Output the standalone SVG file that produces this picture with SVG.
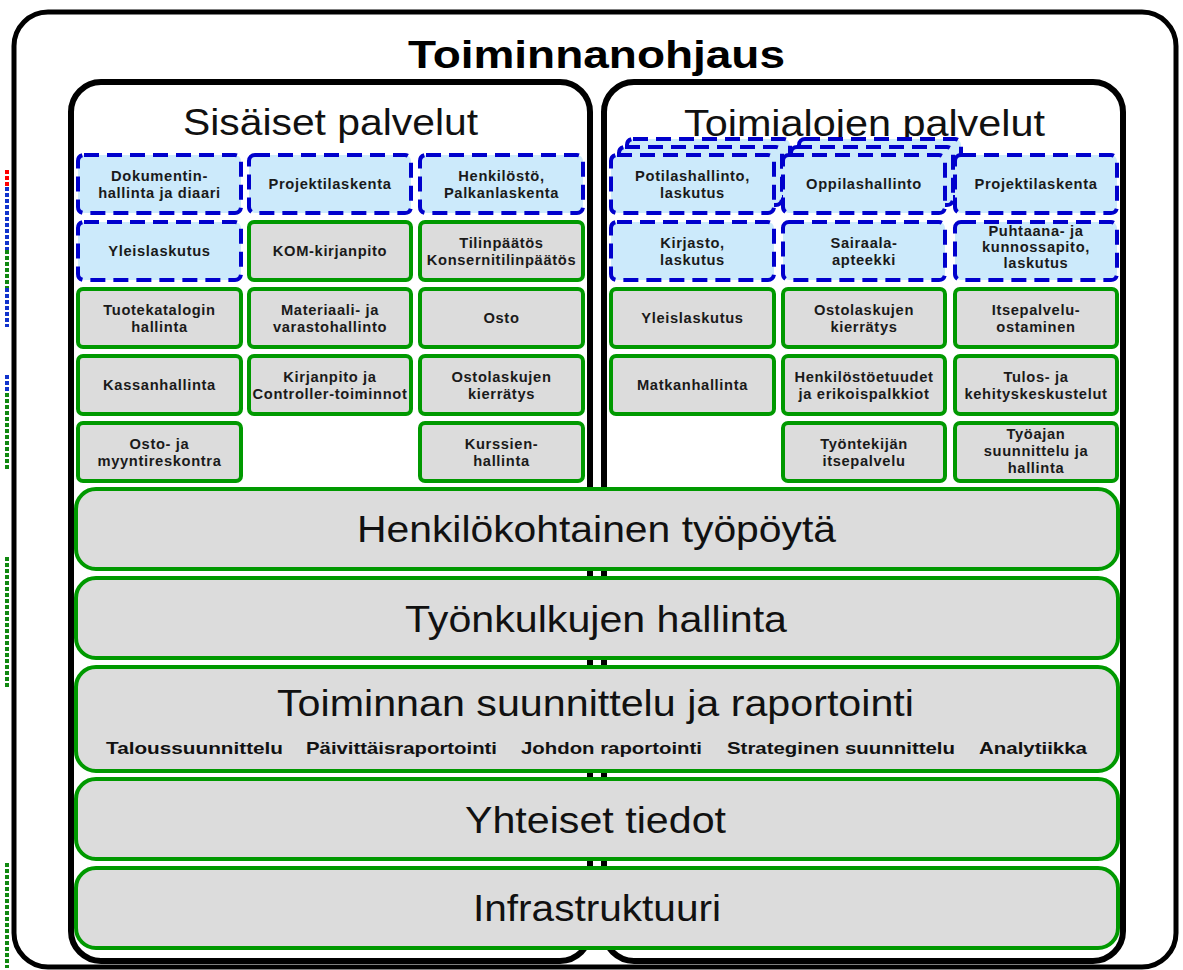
<svg xmlns="http://www.w3.org/2000/svg" width="1183" height="970" viewBox="0 0 1183 970">
  <style>
    .frame { fill: #ffffff; stroke: #000000; }
    .dash { fill: #cceafb; stroke: #0000cc; stroke-width: 4; stroke-dasharray: 15 8; }
    .solid { fill: #dcdcdc; stroke: #009900; stroke-width: 4; }
    .layer { fill: #dcdcdc; stroke: #009900; stroke-width: 4; }
    .lbl { font-family: "Liberation Sans", Arial, sans-serif; font-weight: bold; font-size: 14.7px; letter-spacing: 0.65px; text-anchor: middle; fill: #1a1a1a; }
    .big { font-family: "Liberation Sans", Arial, sans-serif; font-size: 36px; text-anchor: start; fill: #111111; }
    .sub { font-family: "Liberation Sans", Arial, sans-serif; font-weight: bold; font-size: 17px; text-anchor: start; fill: #111111; }
    .edge { fill: none; stroke-width: 4; stroke-dasharray: 4 2; }
  </style>

  <!-- stray marks along the left margin -->
  <g id="margin-marks">
    <line class="edge" x1="7" y1="170" x2="7" y2="186" stroke="#ff0000"/>
    <line class="edge" x1="7" y1="187" x2="7" y2="250" stroke="#1133cc"/>
    <line class="edge" x1="7" y1="250" x2="7" y2="288" stroke="#118811"/>
    <line class="edge" x1="7" y1="288" x2="7" y2="327" stroke="#1133cc"/>
    <line class="edge" x1="7" y1="375" x2="7" y2="393" stroke="#1133cc"/>
    <line class="edge" x1="7" y1="393" x2="7" y2="470" stroke="#118811"/>
    <line class="edge" x1="7" y1="557" x2="7" y2="687" stroke="#118811"/>
    <line class="edge" x1="7" y1="863" x2="7" y2="968" stroke="#118811"/>
  </g>

  <!-- outer frame -->
  <g id="toiminnanohjaus">
    <rect class="frame" x="14" y="12" width="1162" height="955" rx="34" stroke-width="5"/>
    <text x="408" y="68" textLength="377" lengthAdjust="spacingAndGlyphs" font-family="Liberation Sans, Arial, sans-serif" font-weight="bold" font-size="39" fill="#000">Toiminnanohjaus</text>
  </g>

  <!-- service panels -->
  <g id="sisaiset-palvelut">
    <rect class="frame" x="71" y="82" width="519" height="879" rx="30" stroke-width="6"/>
    <text class="big" x="183" y="135" textLength="295" lengthAdjust="spacingAndGlyphs">Sisäiset palvelut</text>
  </g>
  <g id="toimialojen-palvelut">
    <rect class="frame" x="604" y="82" width="519" height="879" rx="30" stroke-width="6"/>
    <text class="big" x="684" y="136" textLength="361" lengthAdjust="spacingAndGlyphs">Toimialojen palvelut</text>
  </g>

  <!-- internal services: left panel -->
  <g id="s-dokumentinhallinta">
    <rect class="dash" x="78" y="155" width="163" height="58" rx="6"/>
    <text class="lbl" x="159.5" y="181">Dokumentin-</text>
    <text class="lbl" x="159.5" y="198">hallinta ja diaari</text>
  </g>
  <g id="s-projektilaskenta">
    <rect class="dash" x="249" y="155" width="162" height="58" rx="6"/>
    <text class="lbl" x="330" y="189">Projektilaskenta</text>
  </g>
  <g id="s-henkilosto">
    <rect class="dash" x="420" y="155" width="163" height="58" rx="6"/>
    <text class="lbl" x="501.5" y="181">Henkilöstö,</text>
    <text class="lbl" x="501.5" y="198">Palkanlaskenta</text>
  </g>
  <g id="s-yleislaskutus">
    <rect class="dash" x="78" y="222" width="163" height="58" rx="6"/>
    <text class="lbl" x="159.5" y="256">Yleislaskutus</text>
  </g>
  <g id="s-kom-kirjanpito">
    <rect class="solid" x="249" y="222" width="162" height="58" rx="5"/>
    <text class="lbl" x="330" y="256">KOM-kirjanpito</text>
  </g>
  <g id="s-tilinpaatos">
    <rect class="solid" x="420" y="222" width="163" height="58" rx="5"/>
    <text class="lbl" x="501.5" y="248">Tilinpäätös</text>
    <text class="lbl" x="501.5" y="265">Konsernitilinpäätös</text>
  </g>
  <g id="s-tuotekatalogi">
    <rect class="solid" x="78" y="289" width="163" height="58" rx="5"/>
    <text class="lbl" x="159.5" y="315">Tuotekatalogin</text>
    <text class="lbl" x="159.5" y="332">hallinta</text>
  </g>
  <g id="s-materiaali">
    <rect class="solid" x="249" y="289" width="162" height="58" rx="5"/>
    <text class="lbl" x="330" y="315">Materiaali- ja</text>
    <text class="lbl" x="330" y="332">varastohallinto</text>
  </g>
  <g id="s-osto">
    <rect class="solid" x="420" y="289" width="163" height="58" rx="5"/>
    <text class="lbl" x="501.5" y="323">Osto</text>
  </g>
  <g id="s-kassanhallinta">
    <rect class="solid" x="78" y="356" width="163" height="58" rx="5"/>
    <text class="lbl" x="159.5" y="390">Kassanhallinta</text>
  </g>
  <g id="s-kirjanpito">
    <rect class="solid" x="249" y="356" width="162" height="58" rx="5"/>
    <text class="lbl" x="330" y="382">Kirjanpito ja</text>
    <text class="lbl" x="330" y="399">Controller-toiminnot</text>
  </g>
  <g id="s-ostolaskut">
    <rect class="solid" x="420" y="356" width="163" height="58" rx="5"/>
    <text class="lbl" x="501.5" y="382">Ostolaskujen</text>
    <text class="lbl" x="501.5" y="399">kierrätys</text>
  </g>
  <g id="s-reskontra">
    <rect class="solid" x="78" y="423" width="163" height="58" rx="5"/>
    <text class="lbl" x="159.5" y="449">Osto- ja</text>
    <text class="lbl" x="159.5" y="466">myyntireskontra</text>
  </g>
  <g id="s-kurssit">
    <rect class="solid" x="420" y="423" width="163" height="58" rx="5"/>
    <text class="lbl" x="501.5" y="449">Kurssien-</text>
    <text class="lbl" x="501.5" y="466">hallinta</text>
  </g>

  <!-- sector services: right panel -->
  <g id="t-potilashallinto">
    <rect class="dash" x="627" y="139" width="163" height="58" rx="6"/>
    <rect class="dash" x="619" y="147" width="163" height="58" rx="6"/>
    <rect class="dash" x="611" y="155" width="163" height="58" rx="6"/>
    <text class="lbl" x="692.5" y="181">Potilashallinto,</text>
    <text class="lbl" x="692.5" y="198">laskutus</text>
  </g>
  <g id="t-oppilashallinto">
    <rect class="dash" x="799" y="139" width="162" height="58" rx="6"/>
    <rect class="dash" x="791" y="147" width="162" height="58" rx="6"/>
    <rect class="dash" x="783" y="155" width="162" height="58" rx="6"/>
    <text class="lbl" x="864" y="189">Oppilashallinto</text>
  </g>
  <g id="t-projektilaskenta">
    <rect class="dash" x="955" y="155" width="162" height="58" rx="6"/>
    <text class="lbl" x="1036" y="189">Projektilaskenta</text>
  </g>
  <g id="t-kirjasto">
    <rect class="dash" x="611" y="222" width="163" height="58" rx="6"/>
    <text class="lbl" x="692.5" y="248">Kirjasto,</text>
    <text class="lbl" x="692.5" y="265">laskutus</text>
  </g>
  <g id="t-sairaala-apteekki">
    <rect class="dash" x="783" y="222" width="162" height="58" rx="6"/>
    <text class="lbl" x="864" y="248">Sairaala-</text>
    <text class="lbl" x="864" y="265">apteekki</text>
  </g>
  <g id="t-puhtaanapito">
    <rect class="dash" x="955" y="222" width="162" height="58" rx="6"/>
    <text class="lbl" x="1036" y="236">Puhtaana- ja</text>
    <text class="lbl" x="1036" y="252">kunnossapito,</text>
    <text class="lbl" x="1036" y="268">laskutus</text>
  </g>
  <g id="t-yleislaskutus">
    <rect class="solid" x="611" y="289" width="163" height="58" rx="5"/>
    <text class="lbl" x="692.5" y="323">Yleislaskutus</text>
  </g>
  <g id="t-ostolaskut">
    <rect class="solid" x="783" y="289" width="162" height="58" rx="5"/>
    <text class="lbl" x="864" y="315">Ostolaskujen</text>
    <text class="lbl" x="864" y="332">kierrätys</text>
  </g>
  <g id="t-itsepalveluostaminen">
    <rect class="solid" x="955" y="289" width="162" height="58" rx="5"/>
    <text class="lbl" x="1036" y="315">Itsepalvelu-</text>
    <text class="lbl" x="1036" y="332">ostaminen</text>
  </g>
  <g id="t-matkanhallinta">
    <rect class="solid" x="611" y="356" width="163" height="58" rx="5"/>
    <text class="lbl" x="692.5" y="390">Matkanhallinta</text>
  </g>
  <g id="t-henkilostoetuudet">
    <rect class="solid" x="783" y="356" width="162" height="58" rx="5"/>
    <text class="lbl" x="864" y="382">Henkilöstöetuudet</text>
    <text class="lbl" x="864" y="399">ja erikoispalkkiot</text>
  </g>
  <g id="t-kehityskeskustelut">
    <rect class="solid" x="955" y="356" width="162" height="58" rx="5"/>
    <text class="lbl" x="1036" y="382">Tulos- ja</text>
    <text class="lbl" x="1036" y="399">kehityskeskustelut</text>
  </g>
  <g id="t-tyontekijan-itsepalvelu">
    <rect class="solid" x="783" y="423" width="162" height="58" rx="5"/>
    <text class="lbl" x="864" y="449">Työntekijän</text>
    <text class="lbl" x="864" y="466">itsepalvelu</text>
  </g>
  <g id="t-tyoaika">
    <rect class="solid" x="955" y="423" width="162" height="58" rx="5"/>
    <text class="lbl" x="1036" y="439">Työajan</text>
    <text class="lbl" x="1036" y="456">suunnittelu ja</text>
    <text class="lbl" x="1036" y="473">hallinta</text>
  </g>

  <!-- shared layers spanning both panels -->
  <g id="layer-tyopoyta">
    <rect class="layer" x="76" y="489" width="1042" height="80" rx="20"/>
    <text class="big" x="357" y="542" textLength="479" lengthAdjust="spacingAndGlyphs">Henkilökohtainen työpöytä</text>
  </g>
  <g id="layer-tyonkulut">
    <rect class="layer" x="76" y="578" width="1042" height="80" rx="20"/>
    <text class="big" x="405" y="632" textLength="382" lengthAdjust="spacingAndGlyphs">Työnkulkujen hallinta</text>
  </g>
  <g id="layer-suunnittelu">
    <rect class="layer" x="76" y="667" width="1042" height="104" rx="20"/>
    <text class="big" x="277" y="716" textLength="637" lengthAdjust="spacingAndGlyphs">Toiminnan suunnittelu ja raportointi</text>
    <text class="sub" x="106" y="754" textLength="177" lengthAdjust="spacingAndGlyphs">Taloussuunnittelu</text>
    <text class="sub" x="306" y="754" textLength="191" lengthAdjust="spacingAndGlyphs">Päivittäisraportointi</text>
    <text class="sub" x="521" y="754" textLength="181" lengthAdjust="spacingAndGlyphs">Johdon raportointi</text>
    <text class="sub" x="727" y="754" textLength="228" lengthAdjust="spacingAndGlyphs">Strateginen suunnittelu</text>
    <text class="sub" x="979" y="754" textLength="108" lengthAdjust="spacingAndGlyphs">Analytiikka</text>
  </g>
  <g id="layer-yhteiset-tiedot">
    <rect class="layer" x="76" y="779" width="1042" height="80" rx="20"/>
    <text class="big" x="465" y="833" textLength="261" lengthAdjust="spacingAndGlyphs">Yhteiset tiedot</text>
  </g>
  <g id="layer-infrastruktuuri">
    <rect class="layer" x="76" y="868" width="1042" height="80" rx="20"/>
    <text class="big" x="473" y="921" textLength="248" lengthAdjust="spacingAndGlyphs">Infrastruktuuri</text>
  </g>

  <g id="connectors"/>
</svg>
